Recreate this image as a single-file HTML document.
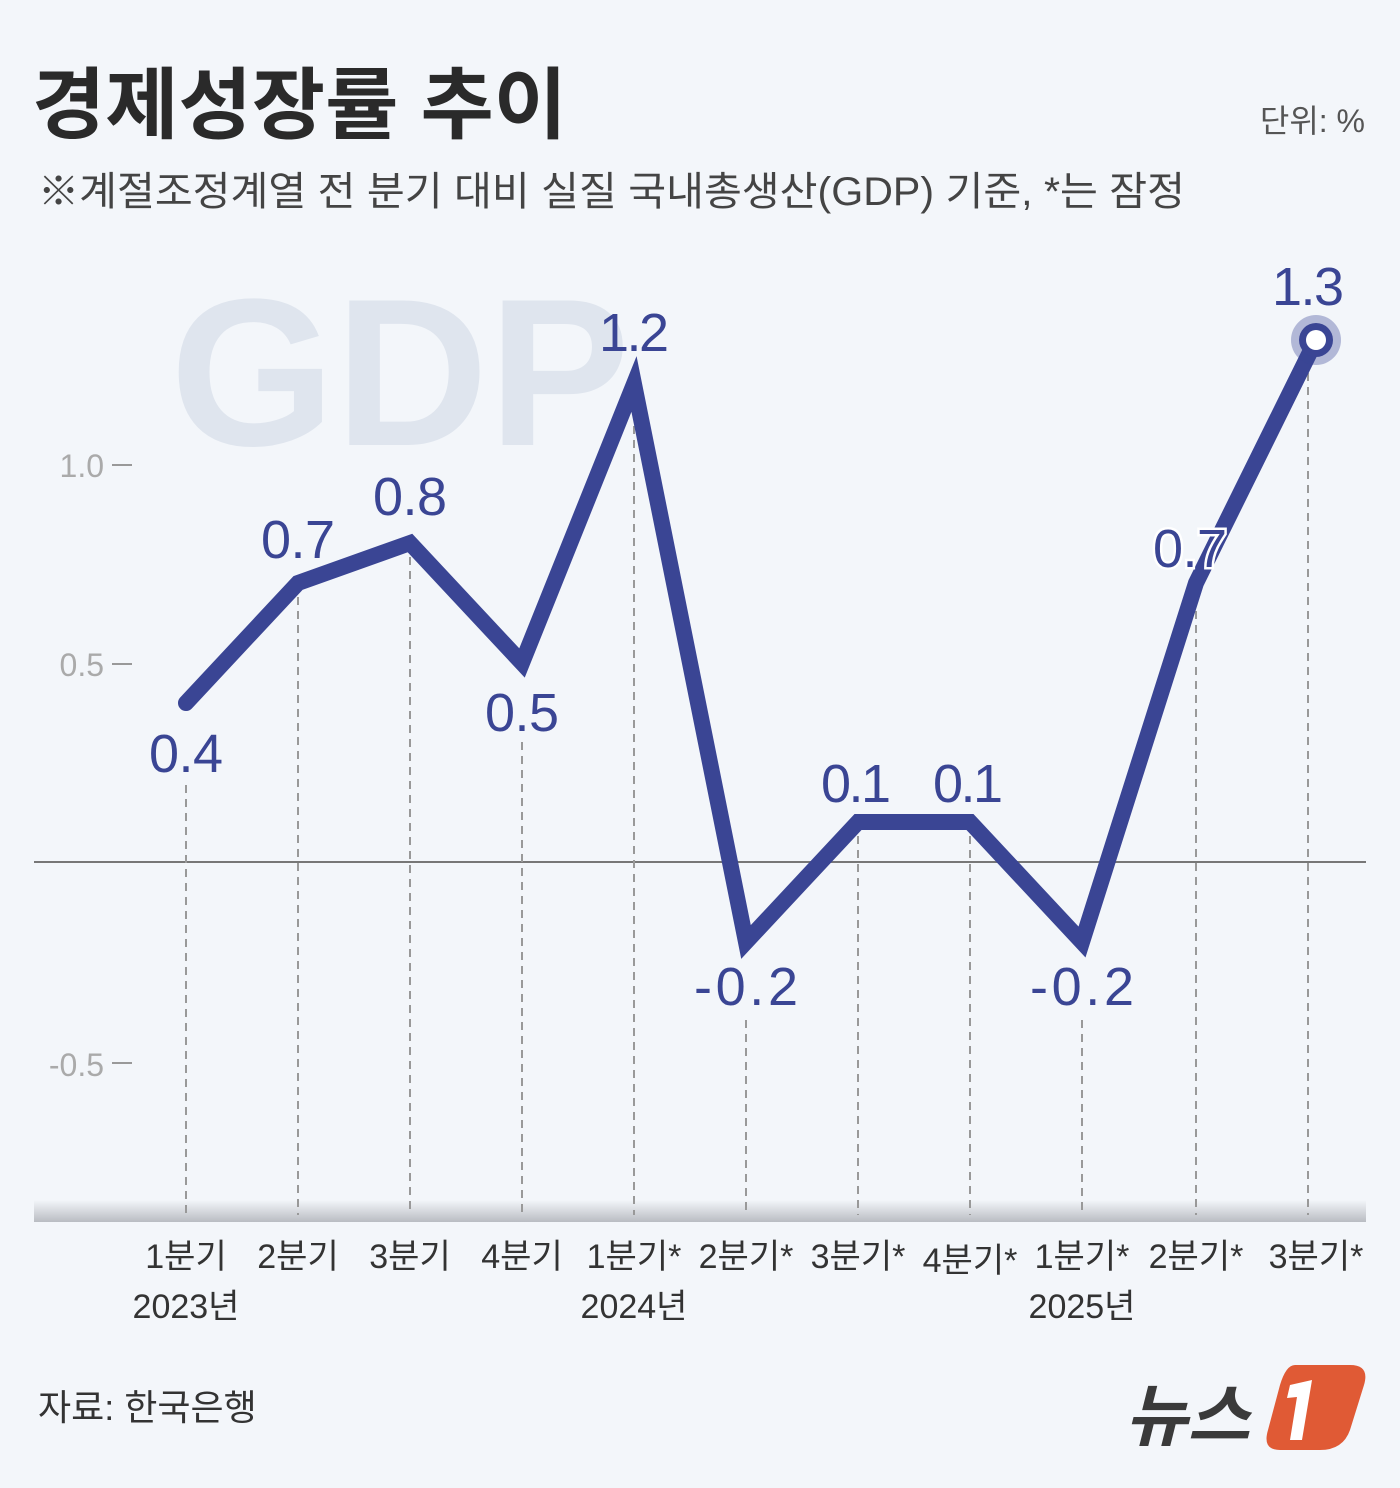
<!DOCTYPE html><html><head><meta charset="utf-8"><style>
body{margin:0;background:#f3f6fa;}
svg{display:block}
text{font-family:"Liberation Sans","Noto Sans CJK KR",sans-serif}
</style></head><body>
<svg width="1400" height="1488" viewBox="0 0 1400 1488">
<rect width="1400" height="1488" fill="#f3f6fa"/>
<text x="32" y="132" font-size="78" font-weight="bold" fill="#2a2a2a" textLength="535" lengthAdjust="spacingAndGlyphs">경제성장률 추이</text>
<text x="1365" y="132" font-size="32" fill="#555" text-anchor="end">단위: %</text>
<text x="38" y="205" font-size="40" fill="#444" textLength="1147" lengthAdjust="spacingAndGlyphs">※계절조정계열 전 분기 대비 실질 국내총생산(GDP) 기준, *는 잠정</text>
<text x="170" y="445" font-size="210" font-weight="bold" fill="#dfe5ee" textLength="460" lengthAdjust="spacingAndGlyphs">GDP</text>
<defs><linearGradient id="g" x1="0" y1="0" x2="0" y2="1"><stop offset="0" stop-color="#f3f6fa"/><stop offset="1" stop-color="#b9bcc2"/></linearGradient></defs>
<rect x="34" y="1200" width="1332" height="22" fill="url(#g)"/>
<line x1="34" y1="862" x2="1366" y2="862" stroke="#777" stroke-width="2"/>
<g font-size="32" fill="#aaa" text-anchor="end">
<text x="104" y="477">1.0</text><text x="104" y="676">0.5</text><text x="104" y="1076">-0.5</text></g>
<g stroke="#999" stroke-width="2"><line x1="112" y1="465" x2="132" y2="465"/><line x1="112" y1="664" x2="132" y2="664"/><line x1="112" y1="1063" x2="132" y2="1063"/></g>
<g stroke="#999" stroke-width="2" stroke-dasharray="8,6">
<line x1="186" y1="785" x2="186" y2="1215"/><line x1="298" y1="583" x2="298" y2="1215"/><line x1="410" y1="543" x2="410" y2="1215"/><line x1="522" y1="742" x2="522" y2="1215"/><line x1="634" y1="384" x2="634" y2="1215"/><line x1="746" y1="1020" x2="746" y2="1215"/><line x1="858" y1="822" x2="858" y2="1215"/><line x1="970" y1="822" x2="970" y2="1215"/><line x1="1082" y1="1020" x2="1082" y2="1215"/><line x1="1196" y1="583" x2="1196" y2="1215"/><line x1="1308" y1="345" x2="1308" y2="1215"/></g>
<polyline points="186,703 298,583 410,543 522,663 634,384 746,942 858,822 970,822 1082,942 1196,583 1316,340" fill="none" stroke="#3a4594" stroke-width="16" stroke-linejoin="miter" stroke-linecap="round"/>
<circle cx="1316" cy="340" r="25" fill="#3a4594" opacity="0.35"/>
<circle cx="1316" cy="340" r="17" fill="#3a4594"/>
<circle cx="1316" cy="340" r="10" fill="#fff"/>
<g font-size="54" fill="#3a4594" text-anchor="middle">
<text x="186" y="772" textLength="74">0.4</text><text x="298" y="558" textLength="74">0.7</text><text x="410" y="515" textLength="74">0.8</text><text x="522" y="731" textLength="74">0.5</text><text x="634" y="351" textLength="70">1.2</text><text x="746" y="1005" textLength="104">-0.2</text><text x="856" y="802" textLength="70">0.1</text><text x="968" y="802" textLength="70">0.1</text><text x="1082" y="1005" textLength="104">-0.2</text><text x="1190" y="567" textLength="74" stroke="#fff" stroke-width="5" paint-order="stroke">0.7</text><text x="1308" y="305" textLength="72">1.3</text></g>
<g font-size="34" fill="#333" text-anchor="middle">
<text x="186" y="1268">1분기</text><text x="298" y="1268">2분기</text><text x="410" y="1268">3분기</text><text x="522" y="1268">4분기</text><text x="634" y="1268">1분기*</text><text x="746" y="1268">2분기*</text><text x="858" y="1268">3분기*</text><text x="970" y="1272">4분기*</text><text x="1082" y="1268">1분기*</text><text x="1196" y="1268">2분기*</text><text x="1316" y="1268">3분기*</text>
<text x="186" y="1318">2023년</text><text x="634" y="1318">2024년</text><text x="1082" y="1318">2025년</text></g>
<text x="38" y="1420" font-size="36" fill="#333">자료: 한국은행</text>
<text x="1125" y="1440" font-size="68" font-weight="bold" font-style="italic" fill="#3a3a3a">뉴스</text>
<path d="M1295,1365 L1350,1365 Q1370,1365 1364,1385 L1350,1430 Q1343,1450 1320,1450 L1280,1450 Q1262,1450 1268,1430 L1280,1385 Q1286,1365 1295,1365Z" fill="#e05a35"/>
<path d="M1290,1385 L1312,1380 L1302,1440 L1290,1440 L1297,1397 L1287,1398Z" fill="#fff"/>
</svg></body></html>
